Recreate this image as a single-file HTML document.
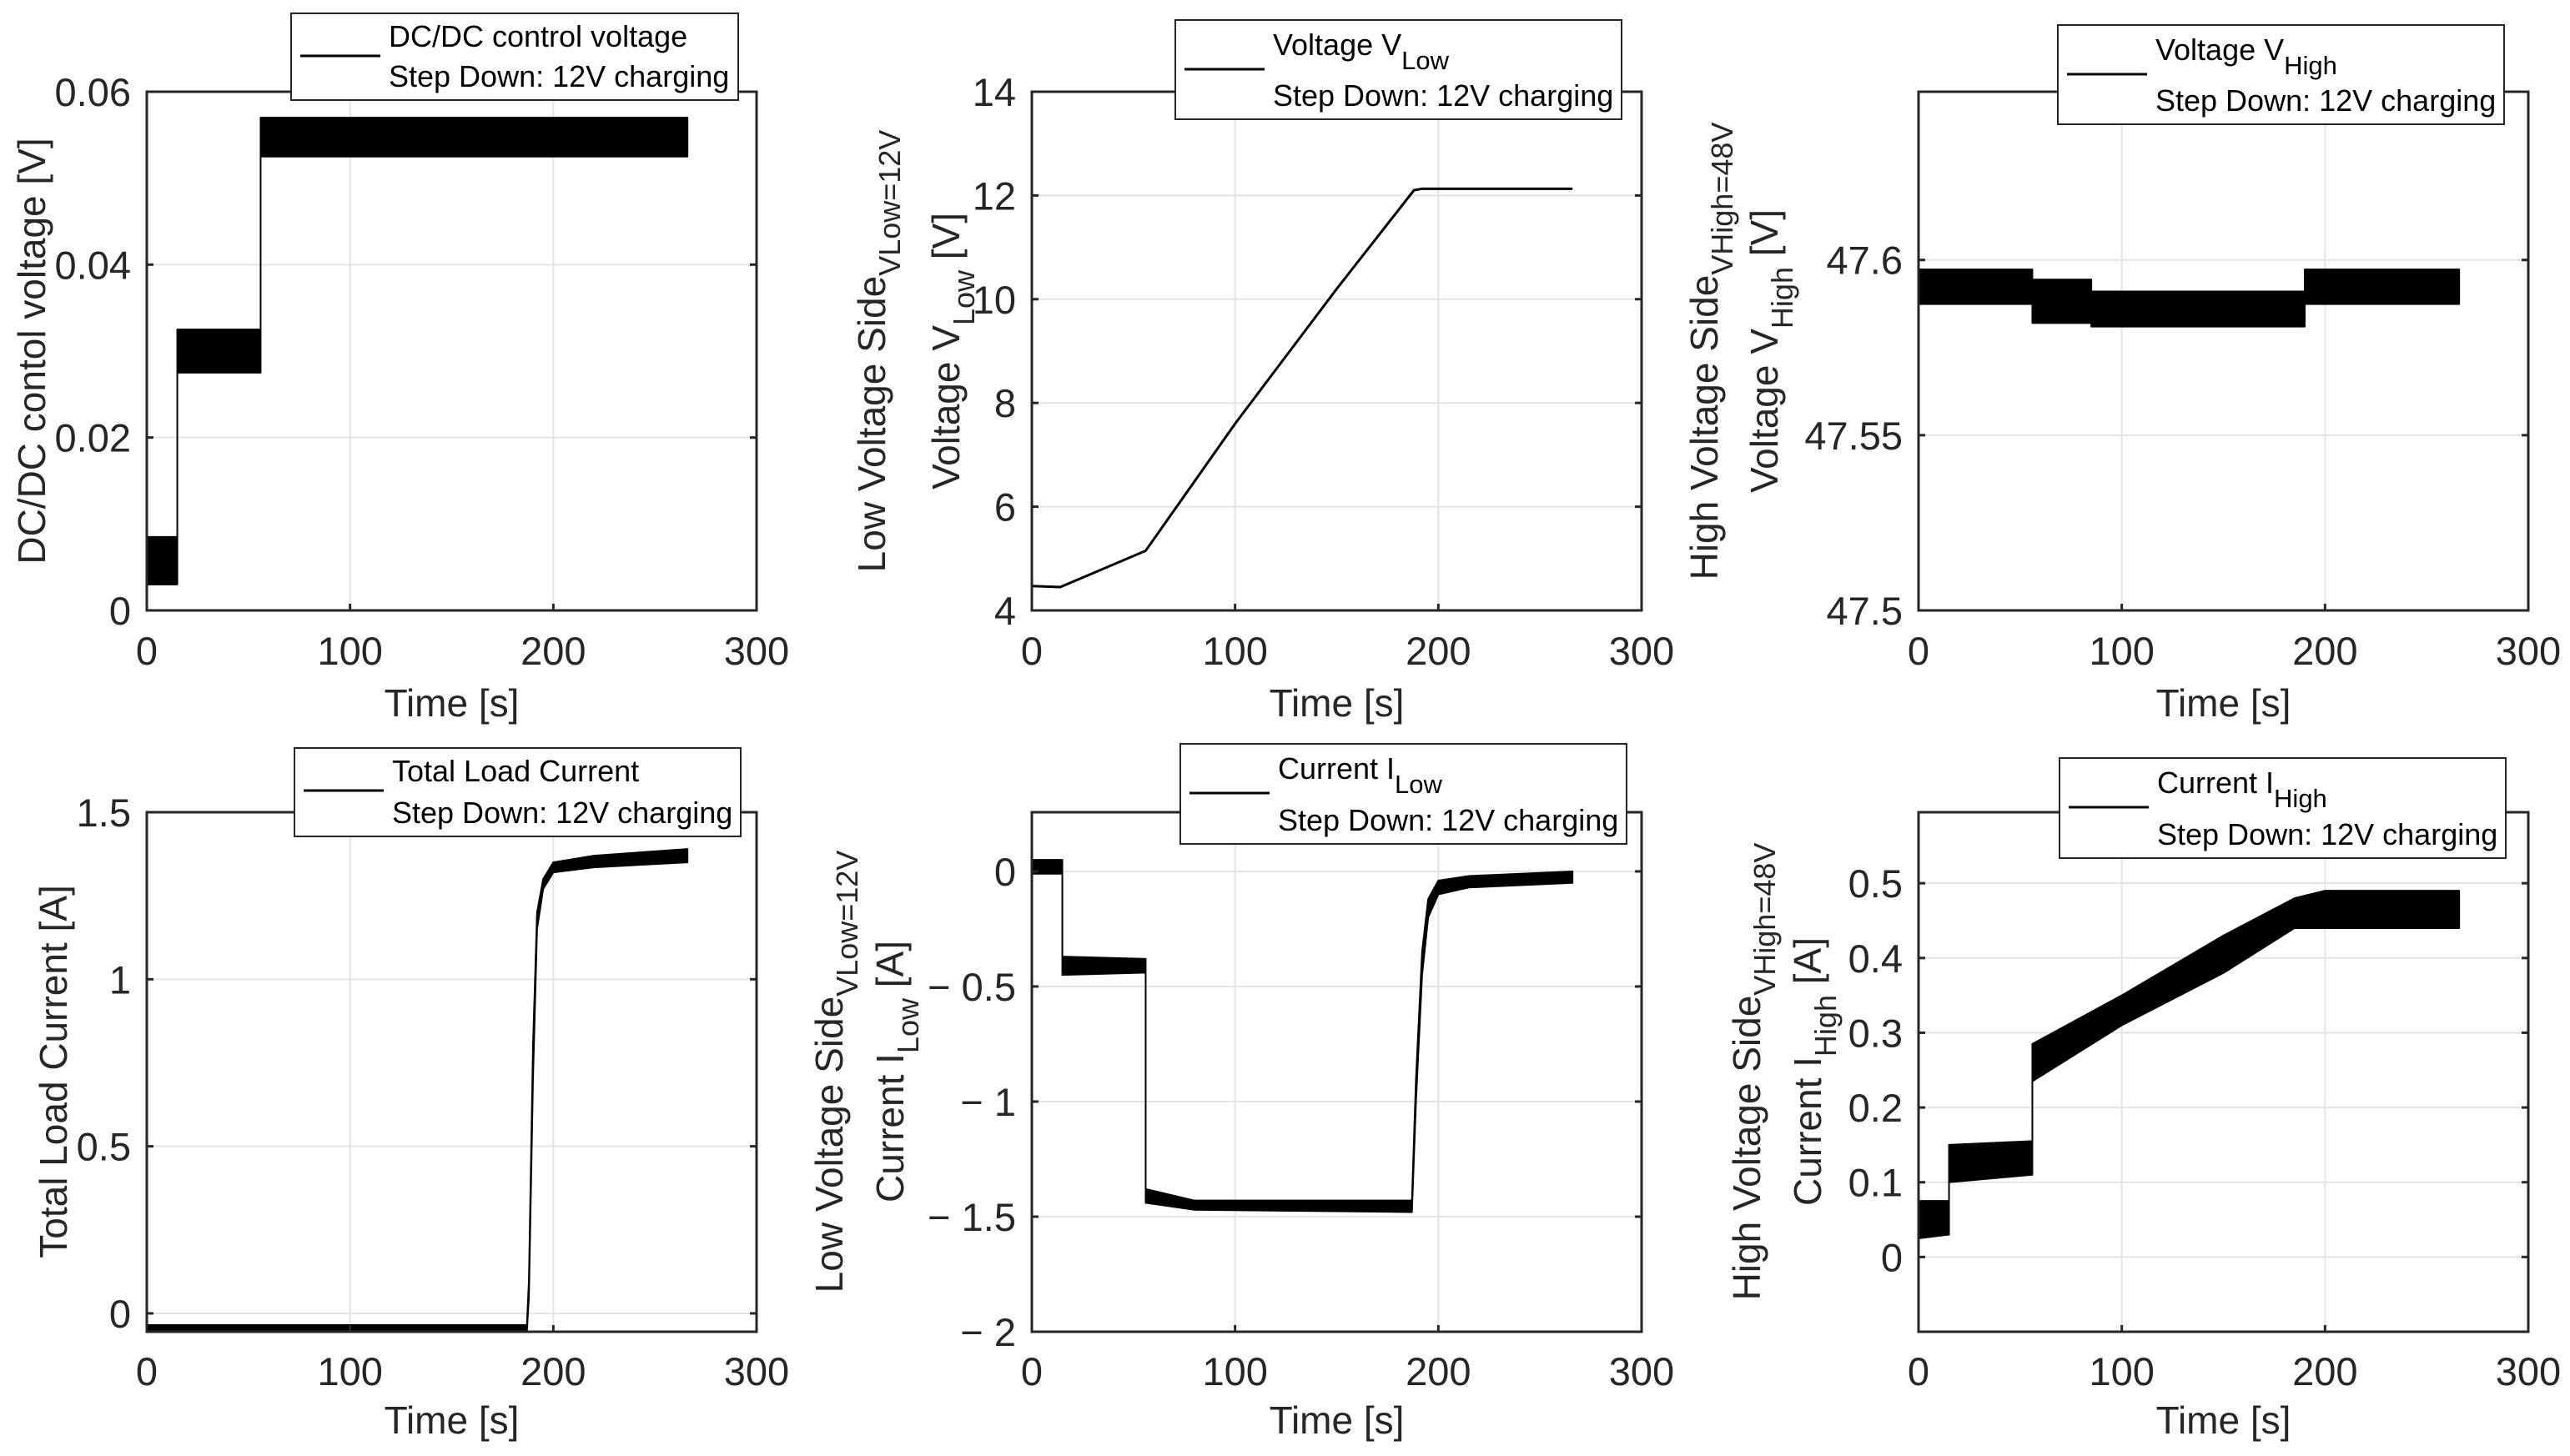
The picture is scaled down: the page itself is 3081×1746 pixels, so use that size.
<!DOCTYPE html>
<html><head><meta charset="utf-8"><style>
html,body{margin:0;padding:0;background:#fff}
svg{display:block;font-family:"Liberation Sans",Arial,sans-serif}
</style></head><body>
<svg id="fig" width="3081" height="1746" viewBox="0 0 3081 1746" xmlns="http://www.w3.org/2000/svg"></svg>
<script>
// ---- data (time in s) ----
const tlT  = [0, 15, 15, 56, 56, 266];
const tlLo = [0.003, 0.003, 0.0275, 0.0275, 0.0525, 0.0525];
const tlHi = [0.0085, 0.0085, 0.0325, 0.0325, 0.057, 0.057];

const tmT = [0, 14, 56, 100, 150, 188, 192, 266];
const tmV = [4.47, 4.45, 5.15, 7.6, 10.2, 12.1, 12.13, 12.13];

const trT  = [0, 56, 56, 85, 85, 190, 190, 266];
const trLo = [47.5874, 47.5874, 47.582, 47.582, 47.581, 47.581, 47.5874, 47.5874];
const trHi = [47.5973, 47.5973, 47.5944, 47.5944, 47.591, 47.591, 47.5973, 47.5973];

const blT  = [0, 187, 188, 190, 192, 195, 200, 220, 266];
const blLo = [-0.055, -0.055, 0.05, 0.7, 1.15, 1.27, 1.32, 1.335, 1.35];
const blHi = [-0.035, -0.035, 0.1, 0.8, 1.2, 1.3, 1.35, 1.37, 1.39];

const bmT  = [0, 15, 15, 56, 56, 80, 186, 187, 189, 192, 195, 200, 215, 266];
const bmLo = [-0.01, -0.01, -0.45, -0.44, -1.44, -1.47, -1.48, -1.48, -1.0, -0.45, -0.2, -0.1, -0.07, -0.05];
const bmHi = [0.05, 0.05, -0.37, -0.38, -1.38, -1.43, -1.43, -1.43, -0.9, -0.35, -0.12, -0.04, -0.02, 0.0];

const brT  = [0, 15, 15, 56, 56, 100, 150, 185, 200, 266];
const brLo = [0.025, 0.03, 0.1, 0.11, 0.235, 0.31, 0.38, 0.44, 0.44, 0.44];
const brHi = [0.075, 0.075, 0.15, 0.155, 0.285, 0.35, 0.43, 0.48, 0.49, 0.49];

const xTicks = [0, 100, 200, 300];
const tlTicks = [0, 0.02, 0.04, 0.06];  const tlLabels = ["0","0.02","0.04","0.06"];
const tmTicks = [4,6,8,10,12,14];       const tmLabels = ["4","6","8","10","12","14"];
const trTicks = [47.5,47.55,47.6];      const trLabels = ["47.5","47.55","47.6"];
const blTicks = [0,0.5,1,1.5];          const blLabels = ["0","0.5","1","1.5"];
const bmTicks = [-2,-1.5,-1,-0.5,0];    const bmLabels = ["\u2212 2","\u2212 1.5","\u2212 1","\u2212 0.5","0"];
const brTicks = [0,0.1,0.2,0.3,0.4,0.5];const brLabels = ["0","0.1","0.2","0.3","0.4","0.5"];

const NS = "http://www.w3.org/2000/svg";
const svg = document.getElementById('fig');
function mk(tag, attrs, parent){
  const e = document.createElementNS(NS, tag);
  for (const k in attrs) e.setAttribute(k, attrs[k]);
  (parent||svg).appendChild(e);
  return e;
}

const panels = [
 {id:'dcdc', L:176,R:907,T:110,B:732, y0:0,y1:0.06, ticks:tlTicks, labels:tlLabels, t:tlT, lo:tlLo, hi:tlHi,
  leg:[349,16,885,120], legTitle:['DC/DC control voltage',''], xlabY:859, tickY:797},
 {id:'vlow', L:1237,R:1968,T:110,B:732, y0:4,y1:14, ticks:tmTicks, labels:tmLabels, t:tmT, v:tmV,
  leg:[1409,24,1944,143], legTitle:['Voltage V','Low'], xlabY:859, tickY:797},
 {id:'vhigh', L:2300,R:3031,T:110,B:732, y0:47.5,y1:47.648, ticks:trTicks, labels:trLabels, t:trT, lo:trLo, hi:trHi,
  leg:[2467,30,3002,149], legTitle:['Voltage V','High'], xlabY:859, tickY:797},
 {id:'iload', L:176,R:907,T:974,B:1597, y0:-0.055,y1:1.5, ticks:blTicks, labels:blLabels, t:blT, lo:blLo, hi:blHi,
  leg:[353,897,888,1003], legTitle:['Total Load Current',''], xlabY:1719, tickY:1661},
 {id:'ilow', L:1237,R:1968,T:974,B:1597, y0:-2,y1:0.257, ticks:bmTicks, labels:bmLabels, t:bmT, lo:bmLo, hi:bmHi,
  leg:[1415,892,1950,1012], legTitle:['Current I','Low'], xlabY:1719, tickY:1661},
 {id:'ihigh', L:2300,R:3031,T:974,B:1597, y0:-0.1,y1:0.595, ticks:brTicks, labels:brLabels, t:brT, lo:brLo, hi:brHi,
  leg:[2469,909,3004,1029], legTitle:['Current I','High'], xlabY:1719, tickY:1661}
];

panels.forEach(p=>{
  const g = mk('g',{});
  
  
  const X = t => p.L + (t-0)/300*(p.R-p.L);
  const Y = v => p.B - (v-p.y0)/(p.y1-p.y0)*(p.B-p.T);
  xTicks.forEach(t=>{
    if (t>0 && t<300){
      const l = mk('line',{x1:X(t),x2:X(t),y1:p.T,y2:p.B,stroke:'#e3e3e3','stroke-width':2},g);
      
      
    }
  });
  p.ticks.forEach(v=>{
    const y=Y(v);
    if (y>p.T+1 && y<p.B-1){
      const l = mk('line',{x1:p.L,x2:p.R,y1:y,y2:y,stroke:'#e3e3e3','stroke-width':2},g);
      
      
    }
  });
  if (p.v){
    const pts = p.t.map((t,i)=>X(t)+','+Y(p.v[i])).join(' ');
    const pl = mk('polyline',{points:pts,fill:'none',stroke:'#000','stroke-width':3},g);
    
    
  } else {
    const up = p.t.map((t,i)=>X(t)+','+Y(p.hi[i]));
    const dn = p.t.map((t,i)=>X(t)+','+Y(p.lo[i])).reverse();
    const pg = mk('polygon',{points:up.concat(dn).join(' '),fill:'#000',stroke:'#000','stroke-width':2,'stroke-linejoin':'round'},g);
    
    
  }
  const box = mk('rect',{x:p.L,y:p.T,width:p.R-p.L,height:p.B-p.T,fill:'none',stroke:'#262626','stroke-width':3},g);
  
  
  xTicks.forEach(t=>{
    mk('line',{x1:X(t),x2:X(t),y1:p.B,y2:p.B-8,stroke:'#262626','stroke-width':3},g);
    mk('line',{x1:X(t),x2:X(t),y1:p.T,y2:p.T+8,stroke:'#262626','stroke-width':3},g);
    const tx = mk('text',{x:X(t),y:p.tickY,'text-anchor':'middle','font-size':47,fill:'#262626'},g);
    tx.textContent = t;
    
    
  });
  p.ticks.forEach((v,i)=>{
    const y=Y(v);
    mk('line',{x1:p.L,x2:p.L+8,y1:y,y2:y,stroke:'#262626','stroke-width':3},g);
    mk('line',{x1:p.R,x2:p.R-8,y1:y,y2:y,stroke:'#262626','stroke-width':3},g);
    const tx = mk('text',{x:p.L-19,y:y+17,'text-anchor':'end','font-size':47,fill:'#262626'},g);
    tx.textContent = p.labels[i];
    
    
  });
  const xl = mk('text',{x:(p.L+p.R)/2,y:p.xlabY,'text-anchor':'middle','font-size':46,fill:'#262626'},g);
  xl.textContent='Time [s]';
  
  
  const [a,b,c,d] = p.leg;
  const lg = mk('g',{},g);
  
  
  mk('rect',{x:a,y:b,width:c-a,height:d-b,fill:'#fff',stroke:'#262626','stroke-width':2},lg);
  const sub = p.legTitle[1]!=='';
  const r1 = b + (sub?42:40), r2 = d - 16;
  const ly = sub ? b+59 : b+51;
  mk('line',{x1:a+11,x2:a+107,y1:ly,y2:ly,stroke:'#000','stroke-width':3},lg);
  const t1 = mk('text',{x:a+117,y:r1,'font-size':36,fill:'#000'},lg);
  t1.textContent = p.legTitle[0];
  if (sub){
    const ts = mk('tspan',{dy:17,'font-size':31},t1);
    ts.textContent = p.legTitle[1];
  }
  
  
  const t2 = mk('text',{x:a+117,y:r2,'font-size':36,fill:'#000'},lg);
  t2.textContent = 'Step Down: 12V charging';
  
  
});

function ylab(x, yc, main, subTxt, tail, name){
  const t = mk('text',{transform:`translate(${x},${yc}) rotate(-90)`,'text-anchor':'middle','font-size':46,fill:'#262626'});
  
  
  const s1 = mk('tspan',{},t); s1.textContent = main;
  if (subTxt){
    const s2 = mk('tspan',{dy:18,'font-size':36},t); s2.textContent = subTxt;
    if (tail){ const s3 = mk('tspan',{dy:-18},t); s3.textContent = tail; }
  }
}
ylab(54, 421, 'DC/DC contol voltage [V]', '', '', 'y-axis-title');
ylab(1061, 421, 'Low Voltage Side', 'VLow=12V', '', 'y-axis-title-line1');
ylab(1150, 421, 'Voltage V', 'Low', ' [V]', 'y-axis-title-line2');
ylab(2059, 421, 'High Voltage Side', 'VHigh=48V', '', 'y-axis-title-line1');
ylab(2131, 421, 'Voltage V', 'High', ' [V]', 'y-axis-title-line2');
ylab(80, 1285, 'Total Load Current [A]', '', '', 'y-axis-title');
ylab(1010, 1285, 'Low Voltage Side', 'VLow=12V', '', 'y-axis-title-line1');
ylab(1083, 1285, 'Current I', 'Low', ' [A]', 'y-axis-title-line2');
ylab(2110, 1285, 'High Voltage Side', 'VHigh=48V', '', 'y-axis-title-line1');
ylab(2183, 1285, 'Current I', 'High', ' [A]', 'y-axis-title-line2');
</script>
</body></html>
